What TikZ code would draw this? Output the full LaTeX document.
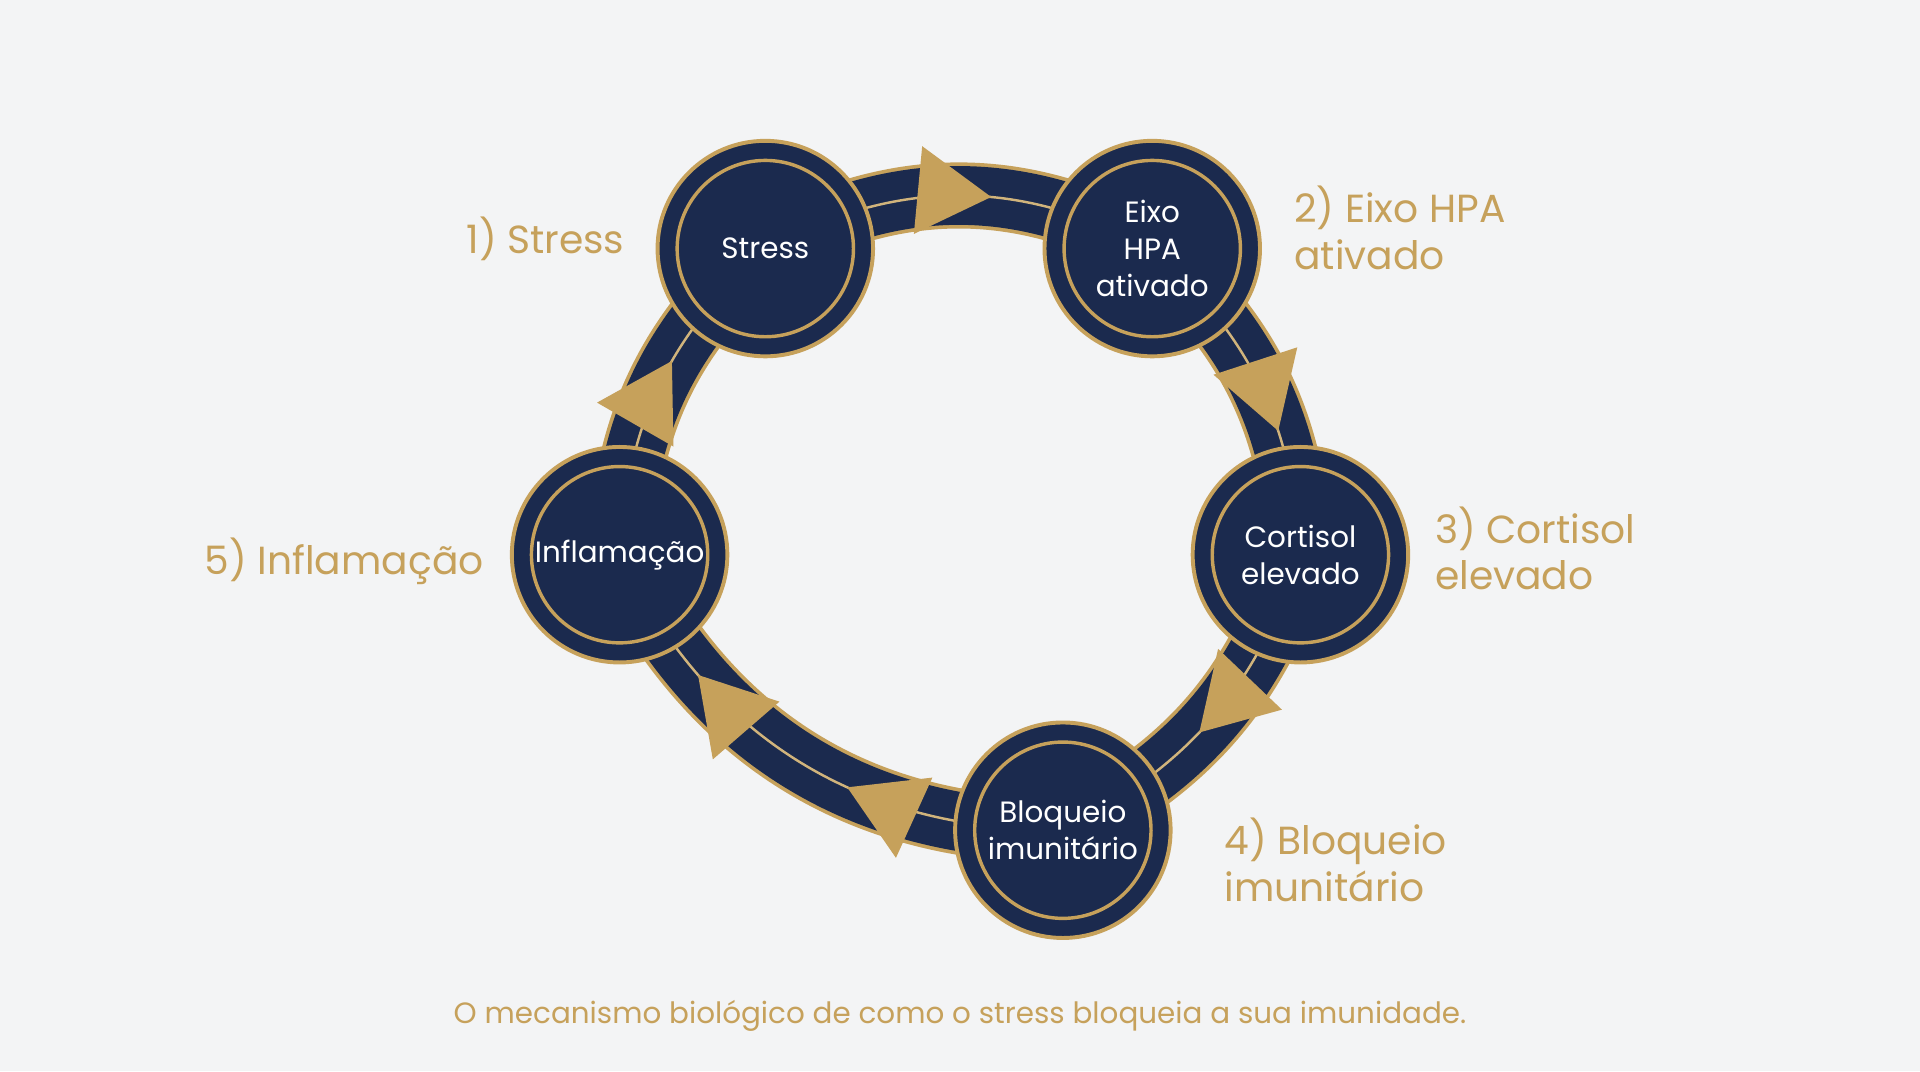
\documentclass[tikz,border=0pt]{standalone}
\usepackage{fontspec}
\setmainfont{Poppins}
\usetikzlibrary{decorations.markings,arrows.meta}
\definecolor{navy}{HTML}{1B2A4E}
\definecolor{gold}{HTML}{C6A15B}
\definecolor{bg}{HTML}{F3F4F5}
\begin{document}
\begin{tikzpicture}[x=0.5pt,y=-0.5pt,
 cnode/.style={circle,fill=navy,draw=gold,line width=1.6pt,minimum size=88pt,inner sep=0pt,text=white,font=\fontsize{12}{15}\selectfont,align=center},
 lab/.style={text=gold,font=\fontsize{16}{19}\selectfont,align=left},
 band/.style={draw=gold,line width=27pt},
 bandin/.style={draw=navy,line width=24pt},
 mid/.style={draw=gold!80,line width=1pt},
 arr/.style={postaction={decorate,decoration={markings,mark=at position #1 with {\arrow[gold,line width=0pt]{Triangle[length=30pt,width=36pt]}}}}}]
\fill[bg] (0,0) rectangle (1568,875);
\useasboundingbox (0,0) rectangle (1568,875);
\coordinate (S) at (625,203);
\coordinate (E) at (941,203);
\coordinate (C) at (1062,453);
\coordinate (B) at (868,678);
\coordinate (I) at (506,453);
\foreach \a/\b/\bb in {S/E/28,E/C/22,C/B/22,B/I/32,I/S/22}{
 \draw[band] (\a) to[bend left=\bb] (\b);
 \draw[bandin] (\a) to[bend left=\bb] (\b);
 \draw[mid] (\a) to[bend left=\bb] (\b);}
\path[arr=0.58] (S) to[bend left=28] (E);
\path[arr=0.64] (E) to[bend left=22] (C);
\path[arr=0.55] (C) to[bend left=22] (B);
\path[arr=0.4] (B) to[bend left=32] (I);
\path[arr=0.74] (B) to[bend left=32] (I);
\path[arr=0.58] (I) to[bend left=22] (S);
\node[cnode] (s) at (S) {Stress};
\node[cnode] (e) at (E) {Eixo\\HPA\\ativado};
\node[cnode] (c) at (C) {Cortisol\\elevado};
\node[cnode] (b) at (B) {Bloqueio\\imunitário};
\node[cnode] (i) at (I) {Inflamação};
\foreach \n in {s,e,c,b,i}{\draw[gold,line width=1.4pt] (\n.center) circle (72);}
\node[lab,anchor=east] (l1) at (517,195) {1) Stress};
\node[lab,anchor=west] (l2) at (1050,186) {2) Eixo HPA\\ativado};
\node[lab,anchor=west] (l3) at (1165,448) {3) Cortisol\\elevado};
\node[lab,anchor=west] (l4) at (993,702) {4) Bloqueio\\imunitário};
\node[lab,anchor=east] (l5) at (402,458) {5) Inflamação};
\node[text=gold,font=\fontsize{12}{14}\selectfont] (cap) at (784,830) {O mecanismo biológico de como o stress bloqueia a sua imunidade.};
\end{tikzpicture}
\end{document}
